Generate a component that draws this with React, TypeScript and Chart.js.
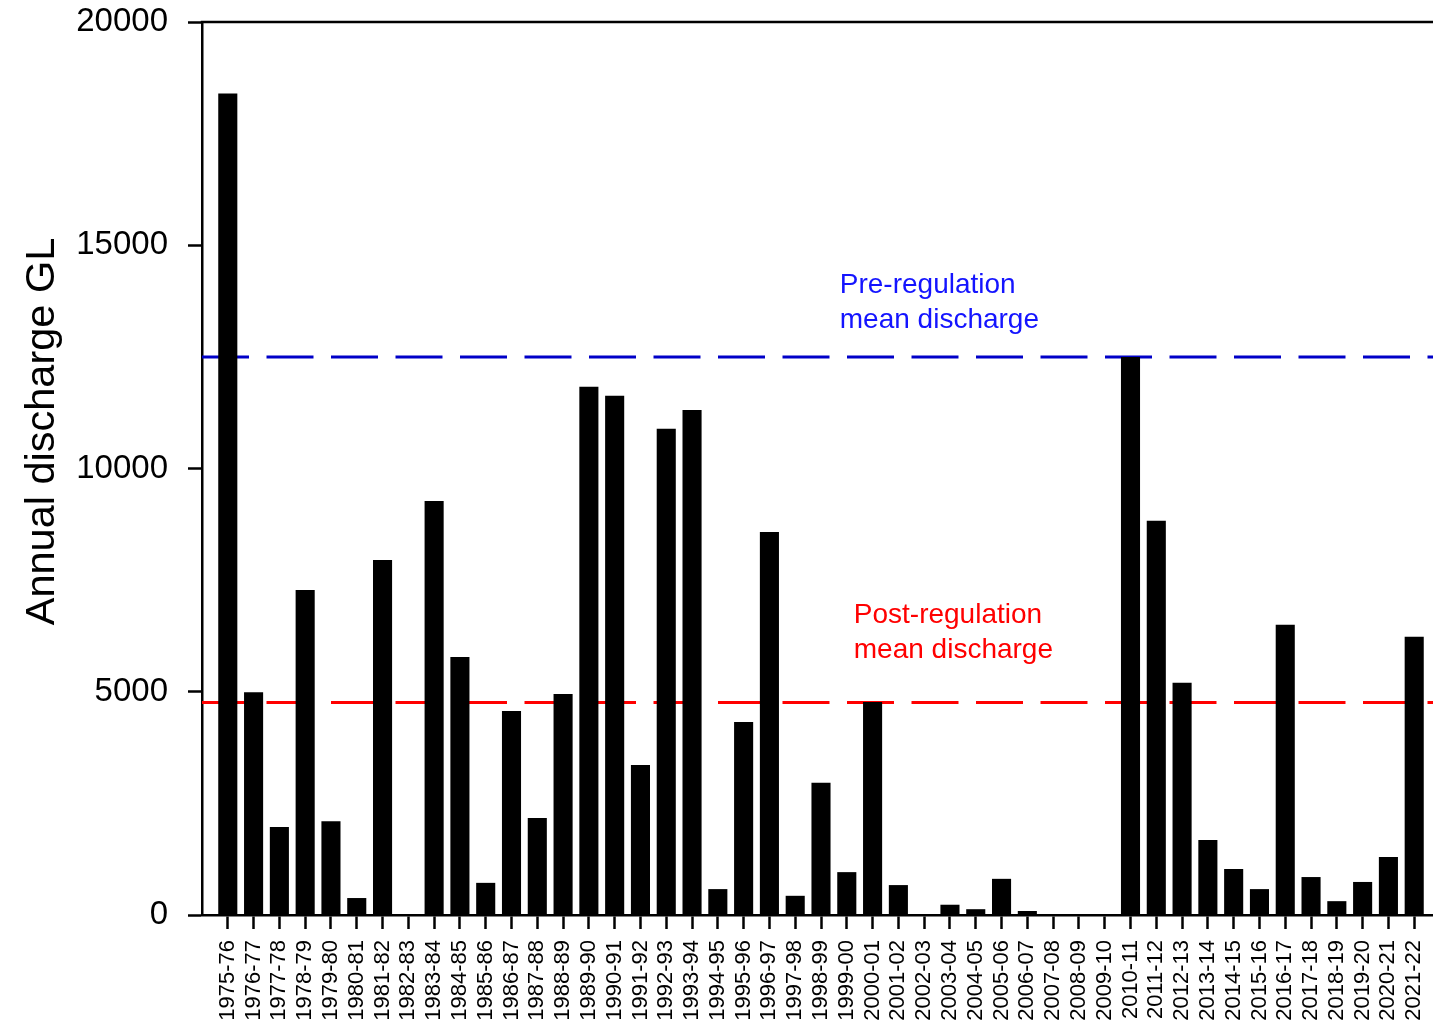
import React, { useEffect, useRef } from 'react';
import { Chart, registerables } from 'chart.js';

Chart.register(...registerables);

const FONT = "'Liberation Sans', Arial, Helvetica, sans-serif";

const CATEGORIES = [
  '1975-76', '1976-77', '1977-78', '1978-79', '1979-80', '1980-81', '1981-82', '1982-83',
  '1983-84', '1984-85', '1985-86', '1986-87', '1987-88', '1988-89', '1989-90', '1990-91',
  '1991-92', '1992-93', '1993-94', '1994-95', '1995-96', '1996-97', '1997-98', '1998-99',
  '1999-00', '2000-01', '2001-02', '2002-03', '2003-04', '2004-05', '2005-06', '2006-07',
  '2007-08', '2008-09', '2009-10', '2010-11', '2011-12', '2012-13', '2013-14', '2014-15',
  '2015-16', '2016-17', '2017-18', '2018-19', '2019-20', '2020-21', '2021-22',
];

const DISCHARGE = [
  18400, 4990, 1970, 7280, 2100, 380, 7950, 0,
  9270, 5780, 720, 4570, 2170, 4950, 11830, 11630,
  3360, 10890, 11310, 580, 4320, 8580, 430, 2960,
  960, 4770, 670, 0, 230, 130, 810, 90,
  0, 0, 0, 12500, 8830, 5200, 1680, 1030,
  580, 6500, 850, 310, 740, 1300, 6230,
];

const PRE_MEAN = 12500;
const POST_MEAN = 4760;

const Y_MIN = 0;
const Y_MAX = 20000;
const Y_STEP = 5000;

const Y_TITLE = 'Annual discharge GL';
const PRE_LABEL = ['Pre-regulation', 'mean discharge'];
const POST_LABEL = ['Post-regulation', 'mean discharge'];

const PRE_LINE_COLOR = '#0000C8';
const PRE_TEXT_COLOR = '#1414FF';
const POST_COLOR = '#FF0000';

export default function App() {
  const ref = useRef<HTMLCanvasElement>(null);

  useEffect(() => {
    const labels = ['', ...CATEGORIES, ''];
    const lastIdx = labels.length - 1;

    const framePlugin = {
      id: 'frameAndText',
      afterDatasetsDraw(chart: any) {
        const { ctx, chartArea, scales } = chart;
        const xs = scales.x;
        const ys = scales.y;
        ctx.save();
        // top frame line
        ctx.strokeStyle = '#000';
        ctx.lineWidth = 2.5;
        ctx.beginPath();
        ctx.moveTo(chartArea.left - 1.25, chartArea.top);
        ctx.lineTo(chart.width, chartArea.top);
        ctx.stroke();

        // annotations
        ctx.font = `28px ${FONT}`;
        ctx.textAlign = 'left';
        ctx.textBaseline = 'middle';
        const anchor = xs.getPixelForValue(CATEGORIES.indexOf('1999-00') + 1);
        const preX = anchor - 7;
        const preY = ys.getPixelForValue(PRE_MEAN);
        ctx.fillStyle = PRE_TEXT_COLOR;
        ctx.fillText(PRE_LABEL[0], preX, preY - 72);
        ctx.fillText(PRE_LABEL[1], preX, preY - 37);

        const postX = anchor + 7;
        const postY = ys.getPixelForValue(POST_MEAN);
        ctx.fillStyle = POST_COLOR;
        ctx.fillText(POST_LABEL[0], postX, postY - 87);
        ctx.fillText(POST_LABEL[1], postX, postY - 52);

        // y axis title
        ctx.translate(43, (chartArea.top + chartArea.bottom) / 2 - 37);
        ctx.rotate(-Math.PI / 2);
        ctx.textAlign = 'center';
        ctx.fillStyle = '#000';
        ctx.font = `41.5px ${FONT}`;
        ctx.fillText(Y_TITLE, 0, 0);
        ctx.restore();
      },
    };

    const chart = new Chart(ref.current as HTMLCanvasElement, {
      type: 'bar',
      data: {
        labels,
        datasets: [
          {
            type: 'bar',
            data: [null, ...DISCHARGE, null] as any,
            backgroundColor: '#000',
            borderWidth: 0,
            barPercentage: 0.74,
            categoryPercentage: 1,
            order: 0,
          },
          {
            type: 'line',
            data: labels.map(() => PRE_MEAN),
            borderColor: PRE_LINE_COLOR,
            borderWidth: 3,
            borderDash: [47, 17.5],
            pointRadius: 0,
            fill: false,
            order: 1,
          },
          {
            type: 'line',
            data: labels.map(() => POST_MEAN),
            borderColor: POST_COLOR,
            borderWidth: 3,
            borderDash: [47, 17.5],
            pointRadius: 0,
            fill: false,
            order: 2,
          },
        ] as any,
      },
      options: {
        animation: false,
        responsive: true,
        maintainAspectRatio: false,
        layout: { padding: { top: 22, left: 0, right: 0, bottom: 0 } },
        plugins: {
          legend: { display: false },
          tooltip: { enabled: false },
        },
        scales: {
          x: {
            type: 'category',
            offset: false,
            grid: {
              offset: false,
              drawOnChartArea: false,
              drawTicks: true,
              tickLength: 14,
              tickWidth: 2.5,
              tickColor: (c: any) => (c.index === 0 || c.index === lastIdx ? 'rgba(0,0,0,0)' : '#000'),
            },
            border: { display: true, color: '#000', width: 2.5 },
            ticks: {
              autoSkip: false,
              minRotation: 90,
              maxRotation: 90,
              padding: 11,
              color: '#000',
              font: { family: FONT, size: 22 },
            },
            afterFit: (s: any) => {
              s.height = 119;
              s.paddingLeft = 0;
              s.paddingRight = 0;
            },
          },
          y: {
            min: Y_MIN,
            max: Y_MAX,
            ticks: {
              stepSize: Y_STEP,
              padding: 20,
              color: '#000',
              font: { family: FONT, size: 33 },
              callback: (v: any) => String(v),
            },
            grid: {
              drawOnChartArea: false,
              drawTicks: true,
              tickLength: 14,
              tickWidth: 2.5,
              tickColor: '#000',
            },
            border: { display: true, color: '#000', width: 2.5 },
            afterFit: (s: any) => {
              s.width = 202;
              s.paddingTop = 0;
              s.paddingBottom = 0;
            },
          },
        },
      } as any,
      plugins: [framePlugin],
    });
    return () => chart.destroy();
  }, []);

  return (
    <div
      style={{
        position: 'fixed',
        left: 0,
        top: 0,
        width: 1433,
        height: 1034,
        overflow: 'hidden',
        background: '#fff',
      }}
    >
      <div style={{ position: 'relative', width: 1440, height: 1034 }}>
        <canvas ref={ref} />
      </div>
    </div>
  );
}
